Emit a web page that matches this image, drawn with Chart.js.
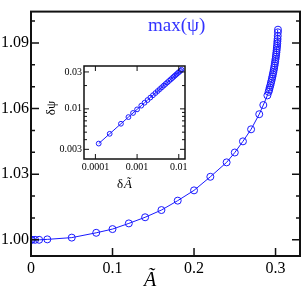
<!DOCTYPE html>
<html>
<head>
<meta charset="utf-8">
<script src="https://cdn.jsdelivr.net/npm/chart.js@4.4.0/dist/chart.umd.min.js"></script>
<style>
  body { margin: 0; background: #fff; }
  #wrap { position: relative; width: 305px; height: 288px; }
  #inset { position: absolute; left: 44px; top: 58px; }
</style>
</head>
<body>
<div id="wrap">
  <canvas id="grafica" width="305" height="288"></canvas>
  <canvas id="inset" width="146" height="138"></canvas>
</div>
<script>
// main curve: max(psi) against A~
const mainA = [0, 0.001, 0.005, 0.01, 0.02, 0.05, 0.08, 0.1, 0.12, 0.14, 0.16, 0.18, 0.2, 0.22, 0.24, 0.25, 0.26, 0.27, 0.28, 0.285, 0.29,
  0.2915, 0.2922, 0.2929, 0.29362, 0.29429, 0.29494, 0.29555, 0.29614, 0.29671, 0.29725, 0.29777, 0.29826, 0.29873, 0.29917,
  0.29959, 0.29998, 0.30035, 0.3007, 0.30102, 0.30132, 0.30159, 0.30184, 0.3021, 0.3023, 0.30248, 0.30269, 0.30288, 0.30298];
const mainPsi = [1.0, 1.0, 1.0, 1.0, 1.0002, 1.001, 1.0032, 1.0049, 1.0075, 1.0103, 1.0136, 1.0179, 1.0226, 1.0288, 1.0354, 1.0399, 1.045, 1.0505, 1.0574, 1.0616, 1.066,
  1.0676, 1.0686, 1.0696, 1.0706, 1.0716, 1.0726, 1.0736, 1.0746, 1.0756, 1.0766, 1.0776, 1.0786, 1.0796, 1.0806,
  1.0816, 1.0826, 1.0836, 1.0846, 1.0856, 1.0866, 1.0876, 1.0886, 1.08975, 1.09075, 1.09177, 1.09318, 1.09484, 1.09604];

// inset: distance to the turning point, log-log
const insetDA = [0.00012, 0.00022, 0.00041, 0.00062, 0.0008, 0.001, 0.00126, 0.00151, 0.00178, 0.00208, 0.0024, 0.00275, 0.00312,
  0.00351, 0.00393, 0.00437, 0.00484, 0.00533, 0.00585, 0.00639, 0.00696, 0.00755, 0.00816, 0.00881, 0.00948, 0.0102, 0.0109, 0.0116];
const insetDPsi = [0.00356, 0.00476, 0.00642, 0.00783, 0.00885, 0.00985, 0.011, 0.012, 0.013, 0.014, 0.015, 0.016, 0.017,
  0.018, 0.019, 0.020, 0.021, 0.022, 0.023, 0.024, 0.025, 0.026, 0.027, 0.028, 0.029, 0.030, 0.031, 0.032];

const mainXTicks = [0, 0.1, 0.2, 0.3];
const mainYTicks = [1.00, 1.03, 1.06, 1.09];
const mainYMinor = [1.00, 1.01, 1.02, 1.03, 1.04, 1.05, 1.06, 1.07, 1.08, 1.09, 1.10];
const insetXTicks = [0.0001, 0.001, 0.01];
const insetYTicks = [0.003, 0.01, 0.03];
const insetYMinor = [0.004, 0.005, 0.006, 0.007, 0.008, 0.009, 0.02];

const blue = 'rgb(25,25,255)';
const serif = "'Liberation Serif', 'Times New Roman', serif";

function pts(xs, ys) {
  return xs.map((x, i) => ({ x: x, y: ys[i] }));
}

// frame + inward ticks
function frame(o) {
  return {
    id: 'frame',
    afterDraw(chart) {
      const ctx = chart.ctx, a = chart.chartArea, x = chart.scales.x, y = chart.scales.y;
      ctx.save();
      ctx.strokeStyle = '#111';
      ctx.lineWidth = o.tickWidth;
      ctx.beginPath();
      o.xMajor.forEach(v => {
        const px = x.getPixelForValue(v);
        ctx.moveTo(px, a.bottom); ctx.lineTo(px, a.bottom - o.major);
        if (o.topTicks) { ctx.moveTo(px, a.top); ctx.lineTo(px, a.top + o.major); }
      });
      o.yMajor.forEach(v => {
        const py = y.getPixelForValue(v);
        ctx.moveTo(a.left, py); ctx.lineTo(a.left + o.major, py);
        ctx.moveTo(a.right, py); ctx.lineTo(a.right - o.major, py);
      });
      o.yMinor.forEach(v => {
        const py = y.getPixelForValue(v);
        ctx.moveTo(a.left, py); ctx.lineTo(a.left + o.minor, py);
        ctx.moveTo(a.right, py); ctx.lineTo(a.right - o.minor, py);
      });
      ctx.stroke();
      ctx.lineWidth = o.border;
      ctx.strokeRect(a.left, a.top, a.right - a.left, a.bottom - a.top);
      ctx.restore();
    }
  };
}

const labelsMain = {
  id: 'labelsMain',
  afterDraw(chart) {
    const ctx = chart.ctx;
    ctx.save();
    ctx.fillStyle = 'rgb(50,50,255)';
    ctx.font = '19px ' + serif;
    ctx.textAlign = 'left';
    ctx.textBaseline = 'alphabetic';
    ctx.fillText('max(ψ)', 148, 31);
    ctx.fillStyle = '#000';
    ctx.font = 'italic 20px ' + serif;
    ctx.textAlign = 'center';
    ctx.fillText('Ã', 150, 286);
    ctx.restore();
  }
};

const labelsInset = {
  id: 'labelsInset',
  afterDraw(chart) {
    const ctx = chart.ctx;
    ctx.save();
    ctx.fillStyle = '#000';
    ctx.textBaseline = 'alphabetic';
    ctx.textAlign = 'left';
    ctx.font = '13px ' + serif;
    ctx.fillText('δ', 73, 130);
    ctx.font = 'italic 13px ' + serif;
    ctx.fillText('Ã', 80, 130);
    ctx.font = '13px ' + serif;
    ctx.textAlign = 'center';
    ctx.translate(8, 50);
    ctx.rotate(-Math.PI / 2);
    ctx.textBaseline = 'middle';
    ctx.fillText('δψ', 0, 0);
    ctx.restore();
  }
};

const grafica = new Chart(document.getElementById('grafica').getContext('2d'), {
  type: 'scatter',
  data: {
    datasets: [{
      data: pts(mainA, mainPsi),
      showLine: true,
      borderColor: blue,
      borderWidth: 1,
      pointRadius: 3.5,
      pointBorderWidth: 1,
      pointBackgroundColor: 'rgba(0,0,0,0)',
      pointBorderColor: blue
    }]
  },
  options: {
    responsive: false,
    animation: false,
    devicePixelRatio: 1,
    layout: { padding: { top: 4, right: 2, left: 0, bottom: 0 } },
    plugins: { legend: { display: false }, tooltip: { enabled: false } },
    scales: {
      x: {
        type: 'linear', min: 0, max: 0.33,
        grid: { display: false, drawTicks: false },
        border: { display: false },
        afterBuildTicks: s => { s.ticks = mainXTicks.map(v => ({ value: v })); },
        afterFit: s => { s.height = 32; },
        ticks: { autoSkip: false, maxRotation: 0, padding: 3, color: '#000', font: { family: serif, size: 16 },
          callback: v => String(v) }
      },
      y: {
        type: 'linear', min: 0.9926, max: 1.1043,
        grid: { display: false, drawTicks: false },
        border: { display: false },
        afterBuildTicks: s => { s.ticks = mainYTicks.map(v => ({ value: v })); },
        afterFit: s => { s.width = 31; },
        ticks: { autoSkip: false, padding: 2, color: '#000', font: { family: serif, size: 16 },
          callback: v => Number(v).toFixed(2) }
      }
    }
  },
  plugins: [frame({ xMajor: mainXTicks, yMajor: mainYTicks, yMinor: mainYMinor, major: 8, minor: 4, tickWidth: 1.5, border: 2, topTicks: false }), labelsMain]
});

const inset = new Chart(document.getElementById('inset').getContext('2d'), {
  type: 'scatter',
  data: {
    datasets: [{
      data: pts(insetDA, insetDPsi),
      showLine: true,
      borderColor: blue,
      borderWidth: 1,
      pointRadius: 2.4,
      pointBorderWidth: 1,
      pointBackgroundColor: 'rgba(0,0,0,0)',
      pointBorderColor: blue
    }]
  },
  options: {
    responsive: false,
    animation: false,
    devicePixelRatio: 1,
    layout: { padding: { top: 8, right: 4, left: 0, bottom: 0 } },
    plugins: { legend: { display: false }, tooltip: { enabled: false } },
    scales: {
      x: {
        type: 'logarithmic', min: 0.0000533, max: 0.0141,
        grid: { display: false, drawTicks: false },
        border: { display: false },
        afterBuildTicks: s => { s.ticks = insetXTicks.map(v => ({ value: v })); },
        afterFit: s => { s.height = 37; },
        ticks: { autoSkip: false, maxRotation: 0, padding: 2, color: '#000', font: { family: serif, size: 10 },
          callback: v => String(v) }
      },
      y: {
        type: 'logarithmic', min: 0.00225, max: 0.0358,
        grid: { display: false, drawTicks: false },
        border: { display: false },
        afterBuildTicks: s => { s.ticks = insetYTicks.map(v => ({ value: v })); },
        afterFit: s => { s.width = 40; },
        ticks: { autoSkip: false, padding: 2, color: '#000', font: { family: serif, size: 10 },
          callback: v => String(v) }
      }
    }
  },
  plugins: [frame({ xMajor: insetXTicks, yMajor: insetYTicks, yMinor: insetYMinor, major: 5, minor: 3, tickWidth: 1, border: 1.5, topTicks: true }), labelsInset]
});
</script>
</body>
</html>
